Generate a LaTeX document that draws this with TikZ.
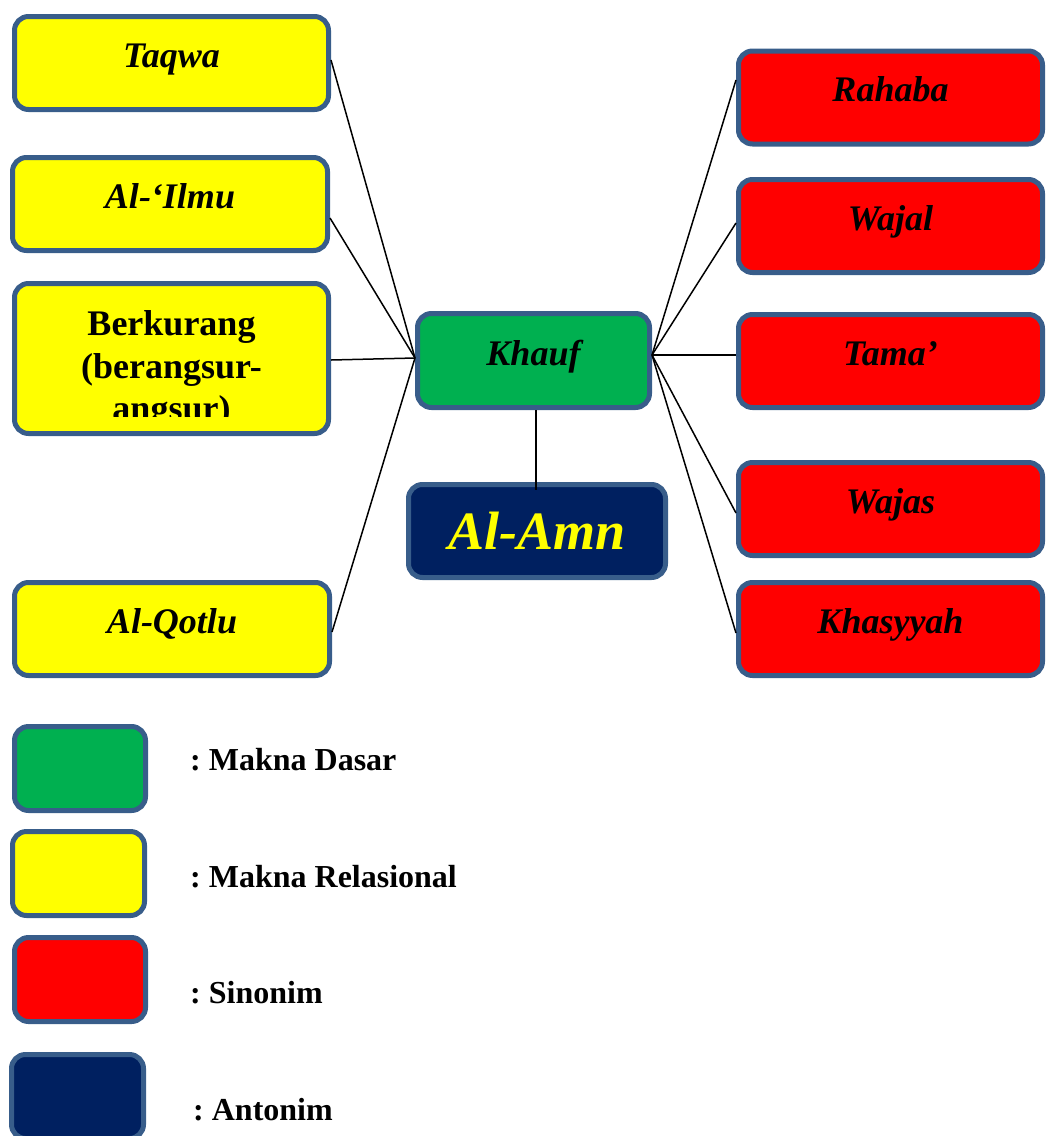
\documentclass[tikz,border=0pt]{standalone}
\usepackage{fontspec}
\setmainfont{Liberation Serif}
\usepackage{tikz}
\definecolor{bordblue}{HTML}{385D8A}
\definecolor{dasargreen}{HTML}{00B050}
\definecolor{relyellow}{HTML}{FFFF00}
\definecolor{sinred}{HTML}{FF0000}
\definecolor{antnavy}{HTML}{002060}
\tikzset{
  box/.style={draw=bordblue, line width=5pt, rounded corners=14pt, inner sep=0pt},
  wordbox/.style={box, minimum width=314pt, text height=50.5pt, text depth=42.5pt,
    font=\fontsize{36}{42}\selectfont\bfseries\itshape},
  relbox/.style={wordbox, fill=relyellow},
  sinbox/.style={wordbox, fill=sinred, minimum width=304pt},
  legbox/.style={box, minimum width=131pt, minimum height=84pt},
  legtext/.style={anchor=west, inner sep=0pt, font=\fontsize{32}{38}\selectfont\bfseries\frenchspacing},
  link/.style={line width=1.5pt}
}

\begin{document}
\begin{tikzpicture}[x=1pt,y=-1pt]
    \useasboundingbox (0,0) rectangle (1046,1136);

    % Left boxes (makna relasional)
    \node[relbox] (taqwa) at (171.5,63) {Taqwa};
    \node[relbox, minimum width=315pt] (ilmu) at (170,204) {Al-‘Ilmu};
    \node[box, fill=relyellow, minimum width=314pt, minimum height=150pt] (berkurang) at (171.5,358.5) {};
    \begin{scope}
        \clip (12,281) rectangle (331,416);
        \node[anchor=north, inner sep=0pt, align=center, font=\fontsize{36}{42.5}\selectfont\bfseries]
            (berkurangtext) at (171.5,310.5) {Berkurang\\(berangsur-\\angsur)};
    \end{scope}
    \node[relbox, minimum width=315pt] (qotlu) at (172,629) {Al-Qotlu};

    % Centre word and its antonym
    \node[wordbox, fill=dasargreen, minimum width=232pt, text height=51.5pt, text depth=42.5pt]
        (khauf) at (533.5,360.5) {Khauf};
    \node[box, fill=antnavy, text=relyellow, minimum width=257pt, minimum height=93pt,
        font=\fontsize{54}{60}\selectfont\bfseries\itshape] (alamn) at (537,531) {Al-Amn};

    % Right boxes (sinonim)
    \node[sinbox] (rahaba) at (890.5,97.5) {Rahaba};
    \node[sinbox] (wajal) at (890.5,226) {Wajal};
    \node[sinbox] (tama) at (890.5,361) {Tama’};
    \node[sinbox] (wajas) at (890.5,509) {Wajas};
    \node[sinbox] (khasyyah) at (890.5,629) {Khasyyah};

    % Connectors to the left
    \draw[link] ([yshift=3pt]taqwa.east) -- ([yshift=2.5pt]khauf.west);
    \draw[link] ([yshift=-14pt]ilmu.east) -- ([yshift=2.5pt]khauf.west);
    \draw[link] ([yshift=-1.5pt]berkurang.east) -- ([yshift=2.5pt]khauf.west);
    \draw[link] ([yshift=-3pt]qotlu.east) -- ([yshift=2.5pt]khauf.west);

    % Connectors to the right
    \draw[link] ([yshift=5.5pt]khauf.east) -- ([yshift=17.5pt]rahaba.west);
    \draw[link] ([yshift=5.5pt]khauf.east) -- ([yshift=3pt]wajal.west);
    \draw[link] ([yshift=5.5pt]khauf.east) -- ([yshift=6pt]tama.west);
    \draw[link] ([yshift=5.5pt]khauf.east) -- ([yshift=-4pt]wajas.west);
    \draw[link] ([yshift=5.5pt]khauf.east) -- ([yshift=-4pt]khasyyah.west);

    % Connector down to the antonym
    \draw[link] ([xshift=2.5pt]khauf.south) -- ([xshift=-1pt,yshift=-8pt]alamn.north);

    % Legend
    \node[legbox, fill=dasargreen] (legdasar) at (80,768.5) {};
    \node[legtext] (txtdasar) at (190,760) {: Makna Dasar};
    \node[legbox, fill=relyellow, minimum width=132pt] (legrel) at (78.5,873.5) {};
    \node[legtext] (txtrel) at (190,877) {: Makna Relasional};
    \node[legbox, fill=sinred] (legsin) at (80,979.5) {};
    \node[legtext] (txtsin) at (190,993) {: Sinonim};
    \node[legbox, fill=antnavy, minimum width=132pt] (legant) at (77.5,1096.5) {};
    \node[legtext] (txtant) at (193,1110) {: Antonim};
\end{tikzpicture}
\end{document}
